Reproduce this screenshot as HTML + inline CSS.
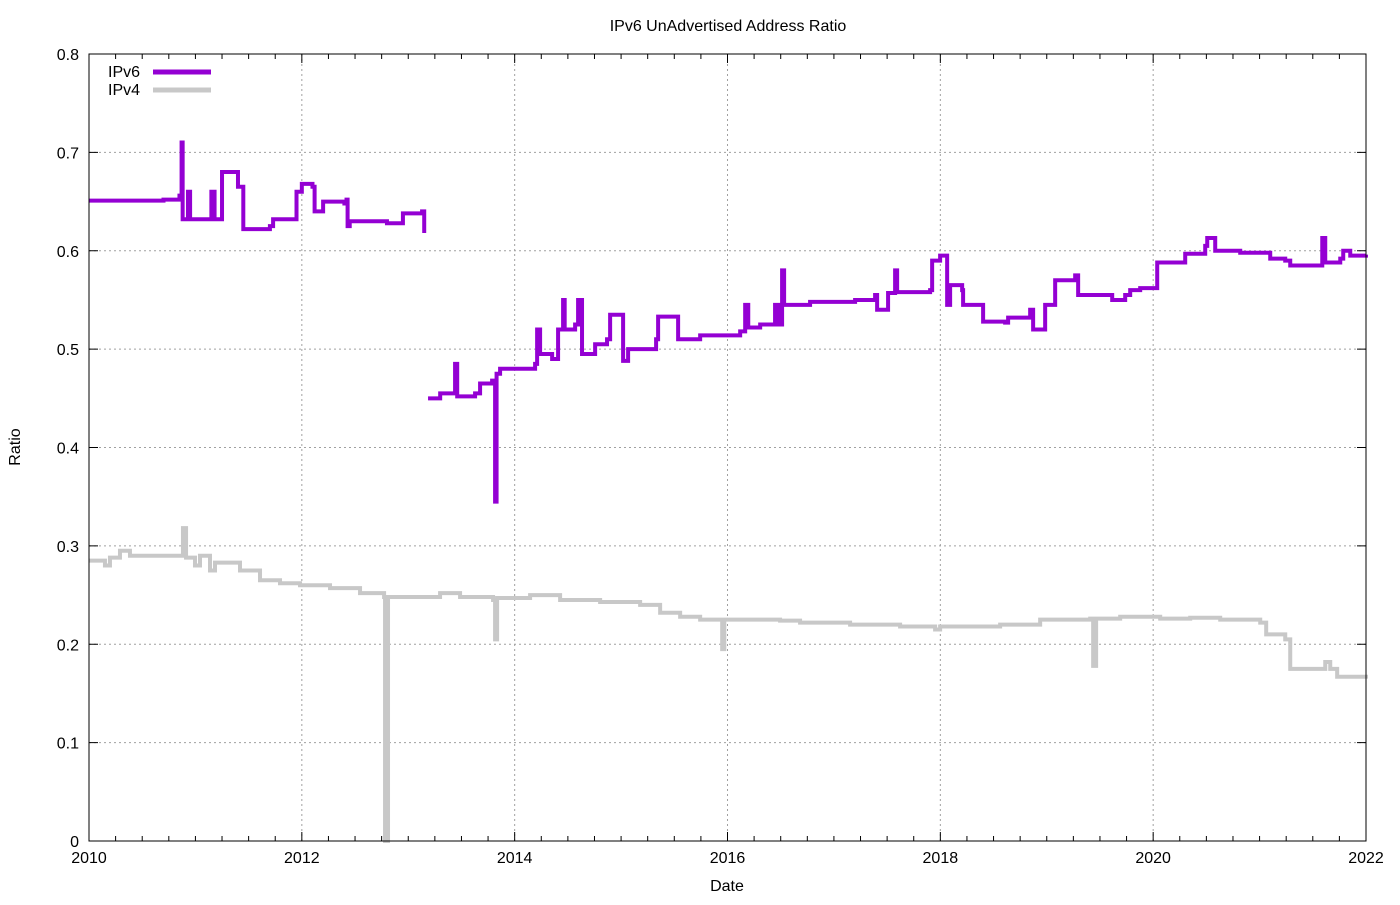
<!DOCTYPE html>
<html><head><meta charset="utf-8"><style>
body{margin:0;background:#fff}
text{font-family:"Liberation Sans",sans-serif;font-size:16px;fill:#000}
</style></head><body>
<svg id="chart" width="1400" height="900" xmlns="http://www.w3.org/2000/svg">
<text x="728" y="31" text-anchor="middle">IPv6 UnAdvertised Address Ratio</text>
<text x="727" y="891" text-anchor="middle">Date</text>
<text x="20" y="447" text-anchor="middle" transform="rotate(-90 20 447)">Ratio</text>
<g id="grid"></g>
<g id="ticks"></g>
<g id="series"></g>
<rect x="89" y="54" width="1277" height="787" fill="none" stroke="#000" stroke-width="1"/>
<g>
<text x="108" y="77">IPv6</text>
<line x1="153" y1="72" x2="211" y2="72" stroke="#9400d3" stroke-width="5"/>
<text x="108" y="95">IPv4</text>
<line x1="153" y1="90" x2="211" y2="90" stroke="#c8c8c8" stroke-width="5"/>
</g>
</svg>
<script>
const xTicks=[2010,2012,2014,2016,2018,2020,2022];
const yTicks=[0,0.1,0.2,0.3,0.4,0.5,0.6,0.7,0.8];
const yTickLabels=["0","0.1","0.2","0.3","0.4","0.5","0.6","0.7","0.8"];
const v6aYears=[2010,2010.7,2010.85,2010.87,2010.88,2010.93,2010.95,2011.15,2011.18,2011.25,2011.4,2011.45,2011.7,2011.73,2011.95,2012.0,2012.1,2012.12,2012.2,2012.4,2012.42,2012.43,2012.45,2012.8,2012.95,2013.1,2013.13,2013.15];
const v6aVals=[0.651,0.652,0.656,0.71,0.632,0.66,0.632,0.66,0.632,0.68,0.665,0.622,0.625,0.632,0.66,0.668,0.665,0.64,0.65,0.648,0.652,0.625,0.63,0.628,0.638,0.638,0.64,0.618];
const v6bYears=[2013.186,2013.3,2013.44,2013.46,2013.628,2013.675,2013.788,2013.816,2013.83,2013.863,2014.192,2014.211,2014.239,2014.352,2014.408,2014.455,2014.47,2014.568,2014.596,2014.633,2014.756,2014.868,2014.897,2015.019,2015.066,2015.329,2015.348,2015.536,2015.743,2016.119,2016.166,2016.195,2016.307,2016.447,2016.476,2016.513,2016.532,2016.776,2017.199,2017.387,2017.406,2017.509,2017.575,2017.594,2017.904,2017.923,2017.998,2018.064,2018.092,2018.205,2018.214,2018.402,2018.609,2018.637,2018.844,2018.872,2018.985,2019.079,2019.267,2019.295,2019.596,2019.615,2019.737,2019.784,2019.878,2020.038,2020.254,2020.301,2020.489,2020.508,2020.583,2020.818,2021.1,2021.241,2021.288,2021.57,2021.589,2021.617,2021.758,2021.786,2021.852,2022.0];
const v6bVals=[0.45,0.455,0.485,0.452,0.455,0.465,0.468,0.345,0.475,0.48,0.485,0.52,0.495,0.49,0.52,0.55,0.52,0.525,0.55,0.495,0.505,0.51,0.535,0.488,0.5,0.51,0.533,0.51,0.514,0.518,0.545,0.522,0.525,0.545,0.525,0.58,0.545,0.548,0.55,0.555,0.54,0.557,0.58,0.558,0.56,0.59,0.595,0.545,0.565,0.56,0.545,0.528,0.527,0.532,0.54,0.52,0.545,0.57,0.575,0.555,0.555,0.55,0.555,0.56,0.562,0.588,0.588,0.597,0.605,0.613,0.6,0.598,0.592,0.59,0.585,0.585,0.613,0.588,0.592,0.6,0.595,0.596];
const v4Years=[2010,2010.15,2010.197,2010.291,2010.385,2010.573,2010.808,2010.883,2010.912,2010.996,2011.043,2011.137,2011.184,2011.419,2011.607,2011.795,2011.983,2012.265,2012.547,2012.773,2012.782,2012.81,2013.111,2013.299,2013.487,2013.797,2013.816,2013.835,2014.145,2014.427,2014.803,2015.179,2015.367,2015.555,2015.743,2015.95,2015.97,2016.494,2016.682,2017.152,2017.622,2017.951,2017.998,2018.562,2018.938,2019.408,2019.436,2019.464,2019.69,2020.066,2020.348,2020.63,2021.006,2021.062,2021.241,2021.288,2021.57,2021.617,2021.664,2021.729,2022];
const v4Vals=[0.285,0.28,0.288,0.295,0.29,0.29,0.29,0.318,0.288,0.28,0.29,0.275,0.283,0.275,0.265,0.262,0.26,0.257,0.252,0.248,0,0.248,0.248,0.252,0.248,0.245,0.205,0.247,0.25,0.245,0.243,0.24,0.232,0.228,0.225,0.195,0.225,0.224,0.222,0.22,0.218,0.215,0.218,0.22,0.225,0.226,0.178,0.226,0.228,0.226,0.227,0.225,0.222,0.21,0.205,0.175,0.175,0.182,0.175,0.167,0.165];
const L=89,R=1366,T=54,B=841;
const xs=y=>L+(y-2010)/12*(R-L);
const ys=v=>B-v/0.8*(B-T);
const NS="http://www.w3.org/2000/svg";
function mk(tag,attrs,parent){const e=document.createElementNS(NS,tag);for(const k in attrs)e.setAttribute(k,attrs[k]);parent.appendChild(e);return e;}
const grid=document.getElementById('grid'),ticks=document.getElementById('ticks'),series=document.getElementById('series');
xTicks.forEach(t=>{
  if(t>2010&&t<2022){const g=mk('line',{x1:xs(t),x2:xs(t),y1:T,y2:B,stroke:'#a0a0a0','stroke-dasharray':'2,3'},grid);
  
  }
  const l=mk('text',{x:xs(t),y:B+22,'text-anchor':'middle'},ticks);l.textContent=t;
  
  
});
for(let q=2010;q<=2022;q+=0.25){
  const big=Math.abs(q-Math.round(q/2)*2)<1e-6;const len=big?9:5;
  mk('line',{x1:xs(q),x2:xs(q),y1:B,y2:B-len,stroke:'#000'},ticks);
  mk('line',{x1:xs(q),x2:xs(q),y1:T,y2:T+len,stroke:'#000'},ticks);
}
yTicks.forEach((v,i)=>{
  if(v>0&&v<0.8){const g=mk('line',{x1:L,x2:R,y1:ys(v),y2:ys(v),stroke:'#a0a0a0','stroke-dasharray':'2,3'},grid);
  
  }
  mk('line',{x1:L,x2:L+9,y1:ys(v),y2:ys(v),stroke:'#000'},ticks);
  mk('line',{x1:R,x2:R-9,y1:ys(v),y2:ys(v),stroke:'#000'},ticks);
  const l=mk('text',{x:L-10,y:ys(v)+6,'text-anchor':'end'},ticks);l.textContent=yTickLabels[i];
  
  
});
function step(yr,vals,color,name){
  let d='M'+xs(yr[0])+','+ys(vals[0]);
  for(let i=1;i<yr.length;i++){d+=' H'+xs(yr[i])+' V'+ys(vals[i]);}
  const p=mk('path',{d:d,fill:'none',stroke:color,'stroke-width':4,'stroke-linejoin':'miter'},series);
  
  
}
step(v4Years,v4Vals,'#c8c8c8','ipv4-line');
step(v6aYears,v6aVals,'#9400d3','ipv6-line-early');
step(v6bYears,v6bVals,'#9400d3','ipv6-line-late');
</script>
</body></html>
